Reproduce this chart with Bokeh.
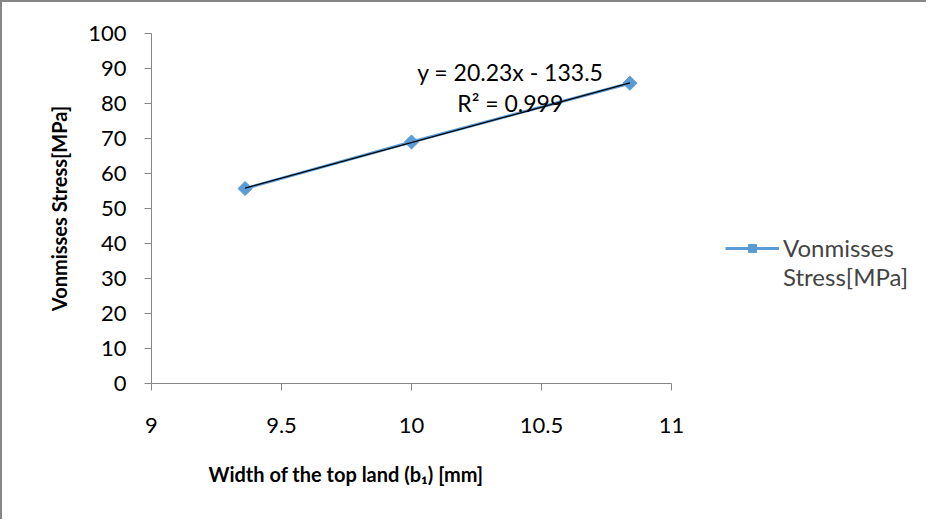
import numpy as np
from bokeh.plotting import figure
from bokeh.models import Range1d, FixedTicker, Legend, LegendItem, Label, Title
from bokeh.embed import file_html
from bokeh.resources import INLINE

# data
width_b1 = [9.36, 10.0, 10.84]
vonmises = [55.7, 69.0, 85.8]
x_ticks = [9, 9.5, 10, 10.5, 11]
x_tick_labels = ["9", "9.5", "10", "10.5", "11"]
y_ticks = [0, 10, 20, 30, 40, 50, 60, 70, 80, 90, 100]
y_tick_labels = ["0", "10", "20", "30", "40", "50", "60", "70", "80", "90", "100"]
series_lines = ["Vonmisses", "Stress[MPa]"]
x_title = "Width of the top land (b\u2081) [mm]"
y_title = "Vonmisses Stress[MPa]"
eq_text = "y = 20.23x - 133.5"
r2_text = "R\u00b2 = 0.999"

FONT = "Lato"
AXIS_GRAY = "#868686"
BLUE = "#5B9BD5"

W, H = 926, 519
LEFT, TOP, BOTTOM = 149, 31, 138
AXIS_PX = 520  # pixel length of the x axis (9..11)
frame_w = W - LEFT
x_end = x_ticks[0] + (x_ticks[-1] - x_ticks[0]) * frame_w / AXIS_PX

p = figure(width=W, height=H, output_backend="svg", toolbar_location=None,
           x_range=Range1d(x_ticks[0], x_end), y_range=Range1d(0, 100),
           min_border_left=LEFT, min_border_right=0, min_border_top=TOP, min_border_bottom=BOTTOM)
p.styles = {"border-left": "2px solid #878787", "border-top": "2px solid #878787"}
p.background_fill_color = "white"
p.border_fill_color = "white"
p.outline_line_color = None
p.grid.visible = False

# axes
for ax in (p.xaxis[0], p.yaxis[0]):
    ax.axis_line_color = AXIS_GRAY
    ax.major_tick_line_color = AXIS_GRAY
    ax.minor_tick_line_color = None
    ax.major_tick_in = 0
    ax.major_tick_out = 7
    ax.major_label_text_font = FONT
    ax.major_label_text_font_size = "22px"
    ax.major_label_text_color = "black"
    ax.axis_label_text_font = FONT
    ax.axis_label_text_font_size = "20px"
    ax.axis_label_text_font_style = "bold"
    ax.axis_label_text_color = "black"

p.xaxis.bounds = (x_ticks[0], x_ticks[-1])
p.xaxis.ticker = FixedTicker(ticks=x_ticks)
p.xaxis.major_label_overrides = dict(zip(x_ticks, x_tick_labels))
p.yaxis.ticker = FixedTicker(ticks=y_ticks)
p.yaxis.major_label_overrides = dict(zip(y_ticks, y_tick_labels))
p.yaxis.axis_label = y_title
p.xaxis.major_label_standoff = 27
p.yaxis.major_label_standoff = 18
p.yaxis.axis_label_standoff = 14
# zero-width spacer label on the x axis to push the title (a Title below) down
p.xaxis.axis_label = "\u200b"
p.xaxis.axis_label_text_font_size = "4px"
p.xaxis.axis_label_standoff = 11

p.add_layout(Title(text=x_title, align="left", offset=57,
                   text_font=FONT, text_font_size="20px", text_font_style="bold",
                   text_color="black"), "below")

# series
ln = p.line(width_b1, vonmises, line_color=BLUE, line_width=3)
mk = p.scatter(width_b1, vonmises, marker="square", angle=np.pi / 4, size=10,
               fill_color=BLUE, line_color=BLUE)

# linear trendline from data
slope, intercept = np.polyfit(width_b1, vonmises, 1)
xs = np.array([min(width_b1), max(width_b1)])
p.line(xs, slope * xs + intercept, line_color="black", line_width=1.2)

p.add_layout(Label(x=10.38, y=88.9, text=eq_text, text_align="center", text_baseline="middle",
                   text_font=FONT, text_font_size="23px", text_color="black"))
p.add_layout(Label(x=10.38, y=80.2, text=r2_text, text_align="center", text_baseline="middle",
                   text_font=FONT, text_font_size="23px", text_color="black"))

legend = Legend(items=[LegendItem(label=series_lines[0], renderers=[ln, mk]),
                       LegendItem(label=series_lines[1], renderers=[])],
                location=(574, 92), orientation="vertical",
                border_line_color=None, background_fill_alpha=0,
                label_text_font=FONT, label_text_font_size="24px",
                glyph_width=54, glyph_height=20, label_standoff=4, padding=0, margin=0,
                spacing=-2)
p.add_layout(legend, "center")

open("out.html", "w").write(file_html(p, INLINE))
